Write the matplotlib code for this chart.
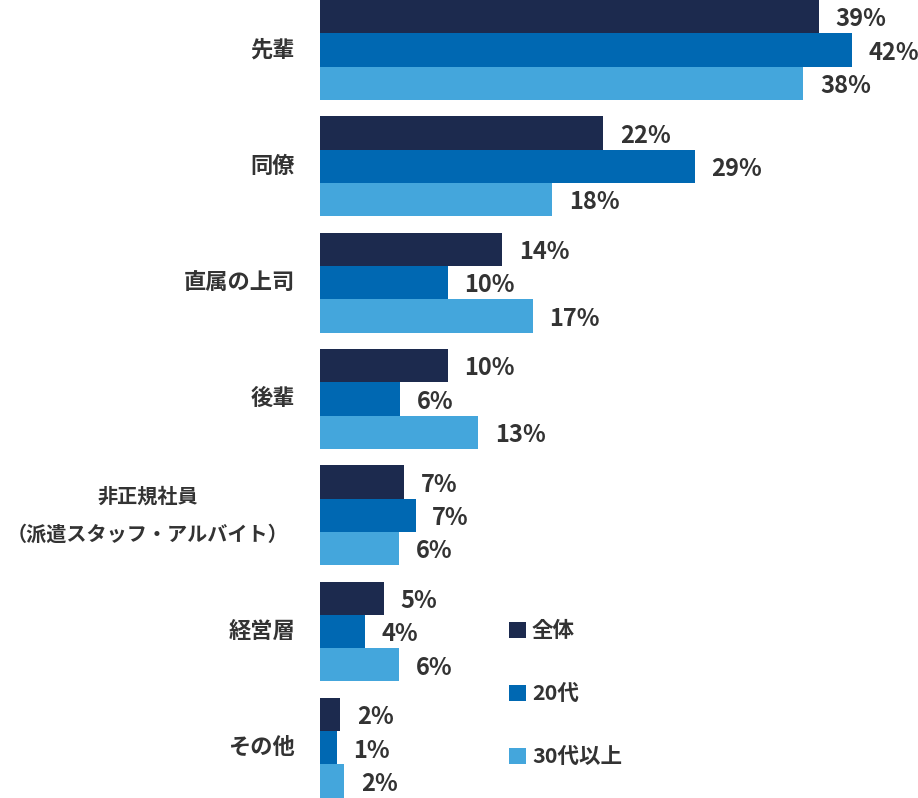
import numpy as np
import matplotlib
matplotlib.use("Agg")
import matplotlib.pyplot as plt

plt.rcParams['font.family'] = ['Noto Sans CJK JP', 'DejaVu Sans']

# Data
categories = ['先輩', '同僚', '直属の上司', '後輩',
              '非正規社員\n（派遣スタッフ・アルバイト）', '経営層', 'その他']
series_names = ['全体', '20代', '30代以上']
colors = ['#1c2a4e', '#0068b2', '#44a6dc']

# bar lengths (%)
zentai = [39.1, 22.2, 14.3, 10.0, 6.6, 5.0, 1.6]
nijudai = [41.7, 29.4, 10.0, 6.3, 7.5, 3.5, 1.3]
sanjudai = [37.9, 18.2, 16.7, 12.4, 6.2, 6.2, 1.9]
# printed labels
zentai_lbl = [39, 22, 14, 10, 7, 5, 2]
nijudai_lbl = [42, 29, 10, 6, 7, 4, 1]
sanjudai_lbl = [38, 18, 17, 13, 6, 6, 2]

values = [zentai, nijudai, sanjudai]
labels = [zentai_lbl, nijudai_lbl, sanjudai_lbl]

W, H = 918, 798
fig = plt.figure(figsize=(W / 100, H / 100), dpi=100)
ax = fig.add_axes([320 / W, 0, (W - 320) / W, 1])

y = np.arange(len(categories))
h = 0.2865
bars = []
for k, (vals, lbls, c, name) in enumerate(zip(values, labels, colors, series_names)):
    yy = y + (k - 1) * h
    b = ax.barh(yy, vals, height=h, color=c, label=name)
    bars.append(b)
    for yi, v, l in zip(yy, vals, lbls):
        ax.annotate(f'{l}%', (v, yi), xytext=(12, -2), textcoords='offset points',
                    ha='left', va='center', fontsize=17, fontweight='bold',
                    color='#333333')

ax.set_xlim(0, (W - 320) / 12.75)
ax.set_ylim(-0.43 + H / 116.3, -0.43)
ax.axis('off')

# category labels
for yi, cat in zip(y, categories):
    if '\n' in cat:
        # long two-line label is centred under itself
        ax.annotate(cat, (0, yi), xytext=(-124, 0), textcoords='offset points',
                    ha='center', va='center', multialignment='center',
                    fontsize=14.5, fontweight='bold', color='#333333', linespacing=2.05)
    else:
        ax.annotate(cat, (0, yi), xytext=(-18, 0), textcoords='offset points',
                    ha='right', va='center',
                    fontsize=16, fontweight='bold', color='#333333')

leg = ax.legend(handles=bars, loc='upper left',
                bbox_to_anchor=((490 - 320) / (W - 320), 1 - 601 / H),
                frameon=False, handlelength=0.75, handleheight=0.75,
                handletextpad=0.3, labelspacing=1.95,
                prop={'size': 15.5, 'weight': 'bold'})
for t in leg.get_texts():
    t.set_color('#333333')

fig.savefig('out.png', dpi=100)
